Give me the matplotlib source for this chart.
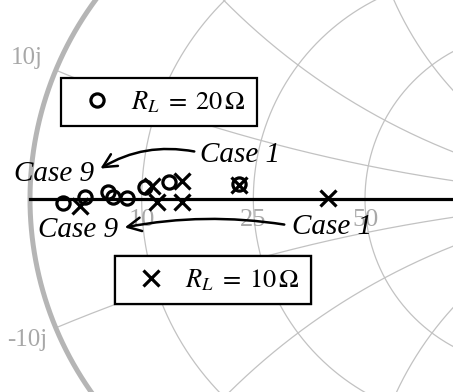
import numpy as np
import matplotlib
matplotlib.use("Agg")
import matplotlib.pyplot as plt
from matplotlib.patches import FancyArrowPatch

plt.rcParams["mathtext.fontset"] = "stix"
plt.rcParams["font.family"] = ["Liberation Serif", "DejaVu Serif"]

# Smith chart reference impedance and grid values (ohms)
Z0 = 50.0
res_grid = [10, 25, 50, 100, 250]
react_grid = [10, 25, 50, 100, 250]
res_labels = [10, 25, 50]
react_labels = [10, -10]

# Measured input reflection coefficients, Case 1 ... Case 9
gamma_20_re = [-0.376, -0.585, -0.657, -0.710, -0.752, -0.767, -0.836, -0.901]
gamma_20_im = [0.045, 0.051, 0.036, 0.003, 0.006, 0.021, 0.006, -0.012]
gamma_10_re = [-0.110, -0.376, -0.546, -0.546, -0.621, -0.636, -0.851]
gamma_10_im = [0.003, 0.042, 0.054, -0.009, -0.009, 0.039, -0.021]

W, H = 453, 392
fig = plt.figure(figsize=(W / 100, H / 100), dpi=100)
ax = fig.add_axes([0, 0, 1, 1])
ax.set_xlim(-365 / 335, 88 / 335)
ax.set_ylim(-193 / 335, 199 / 335)
ax.set_aspect("equal")
ax.axis("off")


def px(x, y):
    """Pixel position -> axes fraction."""
    return x / W, 1 - y / H


def gamma(z):
    return (z - 1) / (z + 1)


grid_col = "#c2c2c2"
# constant-resistance circles
xs = np.concatenate([-np.logspace(4, -4, 1500), [0], np.logspace(-4, 4, 1500)])
for r in res_grid:
    g = gamma(r / Z0 + 1j * xs)
    ax.plot(g.real, g.imag, color=grid_col, lw=0.9, zorder=1)
# constant-reactance arcs
rs = np.concatenate([[0], np.logspace(-4, 4, 3000)])
for x in react_grid:
    for s in (1, -1):
        g = gamma(rs + 1j * s * x / Z0)
        ax.plot(g.real, g.imag, color=grid_col, lw=0.9, zorder=1)
# outer boundary
t = np.linspace(0, 2 * np.pi, 800)
ax.plot(np.cos(t), np.sin(t), color="#b5b5b5", lw=3.6, zorder=2)
# real axis
ax.plot([-1, 1], [0, 0], color="black", lw=2.3, zorder=3)

# grid labels
lab_col = "#a8a8a8"
for r in res_labels:
    g = gamma(r / Z0)
    ax.text(g, -0.062, f"{r}", color=lab_col, fontsize=19, ha="center",
            va="center", zorder=2)
for x in react_labels:
    g = gamma(1j * x / Z0)
    ax.text(g.real - 0.085, g.imag + 0.035 * np.sign(x), f"{x}j", color=lab_col,
            fontsize=18, ha="center", va="center", zorder=2)

# data
h20, = ax.plot(gamma_20_re, gamma_20_im, "o", ms=9.5, mfc="none", mec="black",
               mew=2.3, zorder=5)
h10, = ax.plot(gamma_10_re, gamma_10_im, "x", ms=12, mec="black", mew=2.3,
               zorder=5)

# legends
for h, lab, (x0, y0) in ((h20, r"$R_L\;=\;20\,\Omega$", (61, 78)),
                         (h10, r"$R_L\;=\;10\,\Omega$", (115, 256))):
    leg = ax.legend([h], [lab], loc="upper left",
                    bbox_to_anchor=px(x0, y0), bbox_transform=ax.transAxes,
                    borderaxespad=0, fancybox=False, edgecolor="black",
                    framealpha=1, fontsize=19, borderpad=0.42,
                    handlelength=1.9, handletextpad=0.35)
    leg.get_frame().set_linewidth(1.6)
    leg.set_zorder(6)
    ax.add_artist(leg)

# case annotations
case_kw = dict(fontsize=21, style="italic", ha="center", va="center",
               transform=ax.transAxes, zorder=7)
ax.text(*px(54, 174), "Case 9", **case_kw)
ax.text(*px(240, 155), "Case 1", **case_kw)
ax.text(*px(78, 230), "Case 9", **case_kw)
ax.text(*px(332, 227), "Case 1", **case_kw)

arrow_kw = dict(arrowstyle="->,head_length=0.7,head_width=0.35", lw=1.8,
                color="black", transform=ax.transAxes, zorder=7,
                mutation_scale=14)
ax.add_patch(FancyArrowPatch(px(197, 152), px(98, 170),
                             connectionstyle="arc3,rad=0.2", **arrow_kw))
ax.add_patch(FancyArrowPatch(px(287, 225), px(122, 228),
                             connectionstyle="arc3,rad=0.09", **arrow_kw))

fig.savefig("out.png", dpi=100)
